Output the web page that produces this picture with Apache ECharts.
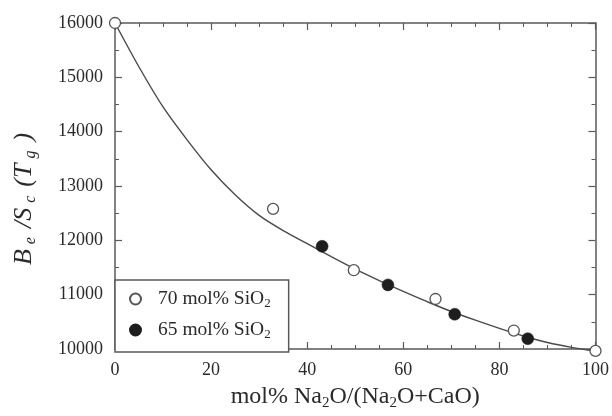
<!DOCTYPE html>
<html><head><meta charset="utf-8">
<script src="https://cdn.jsdelivr.net/npm/echarts@6/dist/echarts.min.js"></script>
<style>html,body{margin:0;padding:0;background:#fff}#c{width:612px;height:416px}</style>
</head><body><div id="c"></div>
<script>
// ---- data ----
const xRange = [0, 100];
const yRange = [10000, 16000];
const seriesNames = ['70 mol% SiO2', '65 mol% SiO2'];
const openX = [0, 32.9, 49.7, 66.7, 83.0, 100];
const openY = [16000, 12580, 11450, 10920, 10340, 9965];
const filledX = [43.1, 56.8, 70.7, 85.9];
const filledY = [11890, 11180, 10640, 10190];
const curveX = [0, 5, 10, 15, 20, 25, 30, 35, 40, 45, 50, 55, 60, 65, 70, 75, 80, 85, 90, 95, 100];
const curveY = [16000, 15190, 14455, 13850, 13300, 12840, 12460, 12180, 11940, 11700, 11470, 11260, 11060, 10870, 10690, 10530, 10380, 10240, 10120, 10030, 9960];

const zip = (xs, ys) => xs.map((x, i) => [x, ys[i]]);
const FONT = 'Liberation Serif';
const AX = '#5a5a5a';
const TXT = '#2a2a2a';

function axisCommon(showLabels) {
  return {
    axisLine: { show: true, onZero: false, lineStyle: { color: AX, width: 1.5 } },
    axisTick: { show: true, inside: true, length: 7, lineStyle: { color: AX, width: 1.2 } },
    minorTick: { show: true, splitNumber: 4, length: 4, lineStyle: { color: AX, width: 1 } },
    splitLine: { show: false },
    axisLabel: { show: showLabels, fontFamily: FONT, fontSize: 18, color: TXT, formatter: v => String(v) }
  };
}

const chart = echarts.init(document.getElementById('c'), null, { renderer: 'canvas' });
const xRich = {
  n: { fontFamily: FONT, fontSize: 24, lineHeight: 28, verticalAlign: 'middle', color: TXT },
  s: { fontFamily: FONT, fontSize: 15, lineHeight: 15, verticalAlign: 'bottom', color: TXT }
};
const yRich = {
  ni: { fontFamily: FONT, fontStyle: 'italic', fontSize: 26, lineHeight: 30, verticalAlign: 'middle', color: TXT, padding: [0, 4, 0, 4] },
  si: { fontFamily: FONT, fontStyle: 'italic', fontSize: 16, lineHeight: 16, verticalAlign: 'bottom', color: TXT, padding: [0, 5, 0, 1] }
};

const xBottom = Object.assign(axisCommon(true), {
  type: 'value', position: 'bottom', min: xRange[0], max: xRange[1], interval: 20,
  name: '{n|mol% Na}{s|2}{n|O/(Na}{s|2}{n|O+CaO)}', nameLocation: 'middle', nameGap: 34,
  nameTextStyle: { rich: xRich }
});
xBottom.axisLabel.margin = 12;
const xTop = Object.assign(axisCommon(false), {
  type: 'value', position: 'top', min: xRange[0], max: xRange[1], interval: 20
});
const yLeft = Object.assign(axisCommon(true), {
  type: 'value', position: 'left', min: yRange[0], max: yRange[1], interval: 1000,
  name: '{ni|B}{si|e}{ni|/S}{si|c}{ni|(T}{si|g}{ni|)}', nameLocation: 'middle', nameGap: 76, nameRotate: 90,
  nameTextStyle: { rich: yRich, padding: [0, 26, 0, 0] }
});
yLeft.minorTick.splitNumber = 2;
yLeft.axisLabel.margin = 12;
const yRight = Object.assign(axisCommon(false), {
  type: 'value', position: 'right', min: yRange[0], max: yRange[1], interval: 1000
});
yRight.minorTick.splitNumber = 2;

chart.setOption({
  animation: false,
  backgroundColor: '#fff',
  grid: { left: 115, right: 14, top: 23, bottom: 65, containLabel: false },
  xAxis: [xBottom, xTop],
  yAxis: [yLeft, yRight],
  legend: {
    data: seriesNames,
    orient: 'vertical', left: 115, top: 280,
    itemWidth: 11, itemHeight: 11, itemGap: 9,
    padding: [8, 18, 11, 14],
    borderColor: AX, borderWidth: 1.5, backgroundColor: '#fff',
    formatter: name => name.replace('SiO2', 'SiO{s|2}'),
    textStyle: {
      fontFamily: FONT, fontSize: 19.5, color: TXT, lineHeight: 22, padding: [0, 0, 0, 12],
      rich: { s: { fontFamily: FONT, fontSize: 13, lineHeight: 12, verticalAlign: 'bottom', color: TXT } }
    }
  },
  series: [
    {
      name: 'curve', type: 'line', data: zip(curveX, curveY), smooth: 0.3, showSymbol: false,
      lineStyle: { color: '#4a4a4a', width: 1.4 }, z: 2, clip: false, silent: true
    },
    {
      name: seriesNames[0], type: 'scatter', data: zip(openX, openY), symbol: 'circle', symbolSize: 11,
      itemStyle: { color: '#fff', borderColor: '#555', borderWidth: 1.3, opacity: 1 }, z: 3, clip: false
    },
    {
      name: seriesNames[1], type: 'scatter', data: zip(filledX, filledY), symbol: 'circle', symbolSize: 12,
      itemStyle: { color: '#1e1e1e', borderColor: '#1e1e1e', borderWidth: 0.5, opacity: 1 }, z: 3, clip: false
    }
  ]
});
</script></body></html>
